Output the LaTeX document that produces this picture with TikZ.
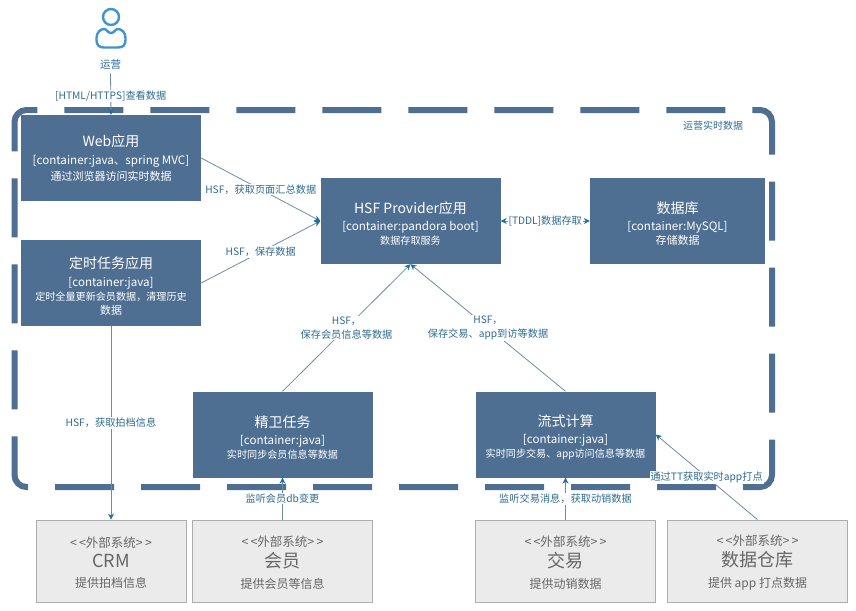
\documentclass[tikz,border=0pt]{standalone}
\usepackage{fontspec}
\setmainfont{Noto Sans CJK SC}
\usetikzlibrary{arrows.meta}
\definecolor{boxblue}{HTML}{4F6F92}
\definecolor{extgray}{HTML}{EBEBEB}
\definecolor{extline}{HTML}{ADADAD}
\definecolor{exttext}{HTML}{666666}
\definecolor{linkline}{HTML}{6F8C9E}
\definecolor{linktip}{HTML}{1F6F9E}
\definecolor{linktext}{HTML}{2F6B8E}
\definecolor{iconblue}{HTML}{3F94CE}
\lineskiplimit=-30pt
\newcommand{\boxtitle}{\fontsize{14}{14}\selectfont}
\newcommand{\boxlower}{\rule{0pt}{17pt}}
\newcommand{\boxtech}{\fontsize{11.6}{14}\selectfont}
\newcommand{\boxdesc}{\fontsize{11}{14}\selectfont}
\newcommand{\boxsmall}{\fontsize{10.1}{14}\selectfont}
\newcommand{\exttag}{\fontsize{12.5}{20}\selectfont\rule{0pt}{13pt}}
\newcommand{\exttitle}{\fontsize{18}{20}\selectfont}
\newcommand{\extdesc}{\fontsize{12}{20}\selectfont}
\newcommand{\exttagtext}{<\,<外部系统>\,>}
\tikzset{
	container/.style={rectangle, fill=boxblue, text=white, align=center, minimum width=180pt, minimum height=86pt, inner sep=0pt, font=\fontsize{11}{14}\selectfont},
	external/.style={rectangle, fill=extgray, draw=extline, line width=.8pt, text=exttext, align=center, minimum width=180pt, minimum height=82pt, inner sep=0pt, font=\fontsize{12}{20}\selectfont},
	link/.style={draw=linkline, line width=.8pt, -{Stealth[length=6pt,width=6pt,color=linktip]}},
	linklabel/.style={fill=white, text=linktext, align=center, inner sep=1pt, font=\fontsize{10.2}{14}\selectfont},
}
\begin{document}
\begin{tikzpicture}[x=1pt, y=-1pt]
	\useasboundingbox (0,0) rectangle (856,610);
	\draw[boxblue, line width=6pt, rounded corners=12pt, dash pattern=on 59pt off 27pt] (772,439.6) -- (772,487) -- (14.5,487) -- (14.5,110) -- (772,110) -- cycle;
	\node[text=linktext, font=\fontsize{10}{12}\selectfont] (boundaryText) at (713,126) {运营实时数据};
	% person
	\draw[iconblue, line width=2.4pt] (111,17) circle (8pt);
	\draw[iconblue, line width=2.4pt] (111,33) .. controls (107.5,33) and (107,29) .. (104,29) .. controls (100,29) and (96.5,33) .. (96.5,38) -- (96.5,40) .. controls (96.5,45) and (99,47.5) .. (104,47.5) -- (118,47.5) .. controls (123,47.5) and (125.5,45) .. (125.5,40) -- (125.5,38) .. controls (125.5,33) and (122,29) .. (118,29) .. controls (115,29) and (114.5,33) .. (111,33) -- cycle;
	\node[text=linktext, font=\fontsize{10.5}{12}\selectfont] (operator) at (110.5,65) {运营};
	\node[container] (web) at (111,158) {\boxtitle Web应用\\[4pt] \boxtech [container:java、spring MVC]\\[2pt] \boxdesc 通过浏览器访问实时数据};
	\node[container] (timer) at (111,283) {\boxtitle\boxlower 定时任务应用\\[4pt] \boxtech [container:java]\\ \boxsmall 定时全量更新会员数据，清理历史\\ 数据};
	\node[container] (provider) at (410.5,221) {\boxtitle\boxlower HSF Provider应用\\[3pt] \boxtech [container:pandora boot]\\ \boxsmall 数据存取服务};
	\node[container, minimum width=175pt] (database) at (677.5,221) {\boxtitle\boxlower 数据库\\[3pt] \boxtech [container:MySQL]\\ \boxdesc 存储数据};
	\node[container] (jingwei) at (282.5,434.5) {\boxtitle\boxlower 精卫任务\\[3pt] \boxtech [container:java]\\ \boxsmall 实时同步会员信息等数据};
	\node[container] (stream) at (565.5,434.5) {\boxtitle\boxlower 流式计算\\[3pt] \boxtech [container:java]\\ \boxsmall 实时同步交易、app访问信息等数据};
	\node[external, minimum width=150pt] (crm) at (111,561) {\exttag \exttagtext\\ \exttitle CRM\\ \extdesc 提供拍档信息};
	\node[external] (member) at (282.5,561) {\exttag \exttagtext\\[1pt] \exttitle 会员\\[1pt] \extdesc 提供会员等信息};
	\node[external] (trade) at (565.5,561) {\exttag \exttagtext\\[1pt] \exttitle 交易\\[1pt] \extdesc 提供动销数据};
	\node[external] (warehouse) at (757.5,561) {\exttag \exttagtext\\[1pt] \exttitle 数据仓库\\[1pt] \extdesc 提供 app 打点数据};
	\draw[link] (operator.south) -- node[linklabel, pos=.55] {[HTML/HTTPS]查看数据} (web.north);
	\draw[link] (web.east) -- node[linklabel] {HSF，获取页面汇总数据} (provider.west);
	\draw[link] (timer.east) -- node[linklabel] {HSF，保存数据} (provider.west);
	\draw[link] (timer.south) -- node[linklabel] {HSF，获取拍档信息} (crm.north);
	\draw[link] (jingwei.north) -- node[linklabel] {HSF，\\保存会员信息等数据} (provider.south);
	\draw[link] (stream.north) -- node[linklabel] {HSF，\\保存交易、app到访等数据} (provider.south);
	\draw[link, {Stealth[length=6pt,width=6pt,color=linktip]}-{Stealth[length=6pt,width=6pt,color=linktip]}] (provider.east) -- node[linklabel] {[TDDL]数据存取} (database.west);
	\draw[link] (member.north) -- node[linklabel] {监听会员db变更} (jingwei.south);
	\draw[link] (trade.north) -- node[linklabel] {监听交易消息，获取动销数据} (stream.south);
	\draw[link] (warehouse.north) -- node[linklabel] {通过TT获取实时app打点} (stream.east);
\end{tikzpicture}
\end{document}
